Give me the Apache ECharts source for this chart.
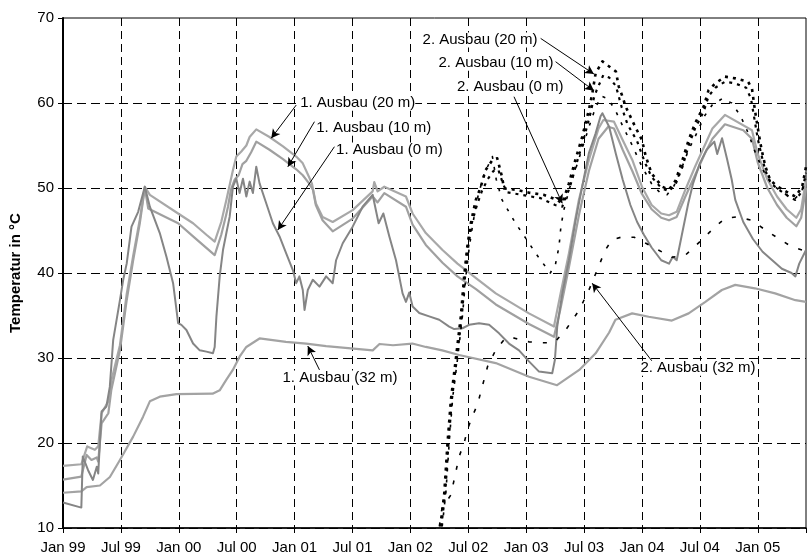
<!DOCTYPE html>
<html><head><meta charset="utf-8">
<script src="https://cdn.jsdelivr.net/npm/echarts@6/dist/echarts.min.js"></script>
<style>html,body{margin:0;padding:0;background:#fff}#c{width:809px;height:558px}</style>
</head><body><div id="c"></div><script>
// x values: months since Jan 1999
const xTickLabels = ['Jan 99','Jul 99','Jan 00','Jul 00','Jan 01','Jul 01','Jan 02','Jul 02','Jan 03','Jul 03','Jan 04','Jul 04','Jan 05'];
const yTicks = [10,20,30,40,50,60,70];

const ausbau1_0m = [[0,13.0],[1.9,12.4],[2.05,18.4],[2.6,16.8],[3.1,15.65],[3.5,17.2],[3.65,16.4],[4.0,23.7],[4.5,24.3],[4.85,26.6],[5.2,32.1],[5.9,36.8],[6.24,39.2],[6.6,41.1],[7.1,45.45],[7.79,47.2],[8.48,50.15],[9.0,47.8],[10.03,44.7],[10.72,41.9],[11.41,38.8],[11.76,35.65],[11.93,34.1],[12.27,33.9],[12.79,33.3],[13.48,31.7],[14.17,30.9],[14.86,30.75],[15.54,30.55],[15.72,31.3],[15.9,34.9],[16.24,39.6],[16.58,42.7],[16.93,44.7],[17.27,46.6],[17.61,50.15],[17.96,51.1],[18.3,49.4],[18.65,51.1],[19.0,49.0],[19.34,50.75],[19.68,49.4],[20.03,52.5],[20.37,50.55],[21.06,48.2],[21.75,45.85],[22.44,44.3],[23.13,42.3],[23.82,40.35],[24.17,38.8],[24.5,39.6],[24.85,38.0],[25.03,35.65],[25.37,38.0],[25.89,39.2],[26.58,38.4],[27.27,39.6],[27.95,38.8],[28.3,41.5],[28.99,43.5],[30.02,45.45],[31.05,47.8],[32.09,49.2],[32.71,45.85],[33.2,47.0],[33.82,44.3],[34.51,41.5],[35.19,37.6],[35.54,36.6],[35.88,37.7],[36.23,36.05],[36.92,35.3],[37.95,34.9],[38.99,34.5],[40.02,33.7],[40.54,33.4],[41.4,33.5],[42.09,33.9],[43.12,34.1],[44.16,33.9],[45.19,32.9],[46.22,31.7],[47.26,30.9],[48.29,29.6],[49.33,28.4],[50.7,28.2],[50.98,29.8],[51.22,33.7],[51.74,37.6],[52.43,41.5],[53.12,46.2],[53.8,50.15],[54.5,54.1],[55.19,56.4],[55.7,58.4],[55.9,58.8],[56.6,57.2],[57.3,54.0],[58.0,51.0],[58.8,48.0],[59.5,46.0],[60.2,44.5],[61.0,43.0],[62.0,41.5],[62.8,41.1],[63.2,41.9],[63.6,41.5],[64.1,44.3],[64.8,48.2],[65.3,50.55],[66.0,52.9],[66.7,54.5],[67.5,55.45],[67.8,54.0],[68.3,55.85],[68.8,53.5],[69.3,51.0],[69.67,48.6],[70.5,46.0],[71.5,44.0],[72.5,42.5],[73.5,41.5],[74.5,40.5],[75.5,40.0],[75.9,39.6],[76.3,41.1],[77,42.7]];

const ausbau1_10m = [[0,15.7],[1.9,16.05],[2.45,18.6],[2.95,18.0],[3.5,18.3],[3.65,17.8],[4.0,22.3],[4.7,23.5],[5.0,26.2],[5.9,30.9],[6.6,36.8],[7.27,41.5],[7.96,45.85],[8.48,50.0],[8.83,47.6],[11.93,45.85],[13.48,44.3],[15.72,42.1],[16.4,44.5],[16.9,46.8],[17.1,47.8],[17.4,49.8],[17.8,51.0],[18.2,51.5],[18.6,52.8],[19.0,53.2],[19.5,54.2],[20.03,55.45],[21.4,54.5],[22.8,53.4],[24.17,52.2],[24.85,51.5],[25.5,50.55],[25.9,49.8],[26.2,48.0],[26.9,46.2],[27.95,44.9],[30.02,46.4],[32.09,49.0],[32.6,48.3],[33.3,49.4],[35.54,47.8],[36.23,45.7],[37.6,43.3],[39.33,41.2],[40.88,39.6],[42.8,38.1],[44.85,36.3],[48.29,34.0],[50.88,32.5],[51.5,35.5],[52.4,40.5],[53.5,47.0],[54.5,52.0],[55.5,55.8],[56.5,57.2],[57.1,57.0],[58.0,54.5],[59.0,52.0],[60.0,49.3],[61.0,47.5],[62.0,46.5],[62.8,46.2],[63.6,46.6],[64.5,49.0],[65.5,51.5],[66.5,54.0],[67.3,55.8],[68.6,57.5],[70.5,56.8],[71.4,55.8],[72.0,53.0],[73.0,50.0],[74.0,48.0],[75.0,46.5],[76.0,45.5],[76.5,46.5],[77,50.0]];

const ausbau1_20m = [[0,17.3],[1.9,17.5],[2.51,19.6],[3.3,19.2],[3.65,19.6],[4.0,23.5],[4.7,24.9],[5.03,27.4],[5.9,31.5],[6.6,37.5],[7.27,42.0],[7.96,46.3],[8.48,50.15],[9.0,49.2],[11.93,47.0],[13.48,45.85],[14.86,44.5],[15.72,43.7],[16.4,46.0],[16.93,48.6],[17.61,52.1],[17.96,53.7],[18.48,54.3],[19.0,55.0],[19.34,56.0],[20.03,56.9],[21.4,56.0],[22.8,54.9],[24.17,53.7],[24.85,52.9],[25.5,51.3],[25.8,50.5],[26.2,48.2],[26.9,46.6],[27.95,46.0],[30.02,47.4],[32.09,49.6],[32.26,50.7],[32.6,49.6],[33.3,50.15],[35.54,49.0],[36.23,47.0],[37.6,44.7],[39.33,42.7],[40.88,41.1],[42.8,39.4],[44.85,37.6],[48.29,35.25],[50.88,33.7],[51.57,37.6],[52.43,42.3],[53.46,48.6],[54.5,53.3],[55.5,57.0],[56.0,58.0],[57.1,57.8],[58.0,55.65],[59.0,53.3],[60.0,50.15],[61.0,48.0],[62.0,47.0],[62.8,46.8],[63.6,47.2],[64.5,49.8],[65.5,52.5],[66.5,55.0],[67.3,57.0],[68.6,58.6],[71.4,56.8],[72.0,54.0],[73.0,51.0],[74.0,49.0],[75.0,47.5],[76.0,46.5],[76.5,47.5],[77,51.0]];

const ausbau1_32m = [[0,14.15],[1.9,14.3],[2.45,14.8],[3.83,15.0],[4.86,16.0],[5.9,18.0],[7.27,20.75],[8.3,23.1],[9.0,24.9],[10.03,25.45],[11.76,25.76],[15.5,25.8],[16.24,26.2],[16.9,27.4],[17.6,28.6],[18.3,30.15],[19.0,31.3],[20.37,32.3],[23.1,31.9],[25.2,31.7],[27.27,31.4],[32.1,30.9],[32.8,31.65],[34.2,31.5],[36.2,31.7],[37.6,31.3],[39.3,30.9],[41.05,30.35],[44.85,29.4],[48.3,27.8],[51.2,26.8],[53.5,28.6],[55.2,30.55],[56.6,33.0],[57.25,34.5],[58.98,35.25],[60.7,34.85],[63.1,34.4],[64.84,35.25],[66.57,36.6],[68.28,38.0],[69.67,38.6],[71.7,38.2],[73.8,37.6],[75.9,36.8],[77,36.6]];

const ausbau2_0m = [[39.3,10.2],[39.7,14.5],[40.05,20.5],[40.4,25.5],[40.9,30.0],[41.4,35.0],[41.75,39.6],[42.1,43.0],[42.5,46.0],[43.0,49.0],[43.6,51.5],[44.2,53.0],[44.5,53.7],[44.9,51.0],[45.5,48.6],[46.9,45.85],[47.95,44.1],[49.0,42.3],[50.0,40.75],[50.5,40.0],[51.05,41.1],[51.4,43.1],[51.6,45.45],[51.9,47.4],[52.5,50.0],[53.2,52.5],[53.9,55.0],[54.6,57.5],[55.2,59.5],[55.8,60.8],[56.5,60.5],[57.3,59.0],[58.0,57.3],[59.0,55.0],[60.0,52.5],[61.0,50.5],[62.0,49.3],[62.6,49.2],[63.3,50.2],[64.0,52.0],[64.84,54.5],[65.7,56.5],[66.5,58.5],[67.3,59.8],[68.3,60.5],[69.3,60.0],[70.2,58.5],[71.0,56.5],[71.8,54.0],[72.6,52.0],[73.4,50.5],[74.4,49.6],[75.3,49.0],[75.9,48.8],[76.5,49.5],[77,51.0]];

const ausbau2_10m = [[39.2,10.2],[39.6,13.9],[39.95,20.0],[40.3,25.1],[40.8,29.8],[41.33,34.9],[41.67,39.6],[42.0,43.1],[42.36,45.85],[42.9,48.0],[43.4,49.6],[44.0,51.0],[44.6,52.0],[45.1,52.2],[45.6,50.5],[46.0,49.5],[47.5,49.2],[49.5,48.8],[51.0,48.0],[51.74,47.8],[52.5,50.0],[53.2,52.8],[53.9,55.5],[54.6,58.5],[55.0,60.5],[55.3,61.5],[56.0,63.3],[56.6,63.0],[57.3,62.0],[57.9,59.5],[58.5,57.5],[59.5,55.5],[60.3,53.0],[61.0,51.3],[62.0,50.0],[62.8,49.6],[63.5,50.5],[64.2,52.5],[64.84,55.0],[65.5,57.0],[66.4,59.0],[66.9,60.8],[67.6,61.8],[68.6,62.5],[69.67,62.3],[70.8,61.8],[71.3,60.5],[71.6,58.5],[72.0,55.8],[72.4,53.8],[72.8,52.0],[73.4,50.5],[74.2,49.8],[75.2,49.0],[75.9,48.6],[76.6,49.6],[77,51.8]];

const ausbau2_20m = [[39.1,10.2],[39.5,13.9],[39.85,20.0],[40.2,25.1],[40.7,29.8],[41.23,34.9],[41.57,39.6],[41.9,43.1],[42.26,45.85],[42.78,48.6],[43.3,50.15],[43.8,52.1],[44.5,53.3],[45.0,53.5],[45.5,51.3],[45.7,49.95],[46.9,49.8],[48.3,49.45],[49.8,49.2],[51.2,48.6],[51.74,48.2],[52.43,50.55],[53.1,53.3],[53.8,56.0],[54.5,59.2],[54.85,61.1],[55.2,63.5],[55.9,64.9],[56.6,64.3],[57.3,63.7],[57.6,61.9],[58.0,60.7],[58.3,59.6],[59.3,57.2],[60.0,55.65],[60.4,53.7],[61.0,51.7],[62.1,50.15],[62.8,49.8],[63.5,50.9],[64.2,53.3],[64.84,55.65],[65.5,57.6],[66.4,59.6],[66.9,61.5],[67.6,62.3],[68.6,63.1],[69.67,62.9],[71.0,62.5],[71.4,61.7],[71.7,59.2],[72.1,56.4],[72.4,54.5],[72.8,52.5],[73.3,50.9],[74.1,50.15],[75.2,49.4],[75.9,49.0],[76.6,50.15],[77,52.5]];

const ausbau2_32m = [[39.0,10.2],[39.27,12.3],[40.2,13.9],[41.05,18.4],[41.57,20.0],[41.9,21.5],[42.4,23.1],[42.95,24.5],[43.3,26.0],[44.0,29.0],[44.85,30.95],[45.6,32.0],[46.2,32.5],[46.9,32.3],[48.3,31.9],[49.7,31.8],[50.9,31.8],[52.1,33.3],[53.5,35.65],[54.5,38.0],[54.8,38.8],[55.5,40.75],[56.2,42.7],[56.9,43.9],[57.8,44.2],[59.2,44.2],[60.4,43.5],[61.7,42.7],[63.1,41.85],[64.5,42.1],[66.2,43.9],[67.6,45.45],[68.6,46.4],[69.8,46.6],[71.4,46.2],[72.8,45.05],[74.1,44.1],[75.5,43.1],[76.6,42.7],[77,43.5]];

// annotations: text, text anchor (left-middle), arrow start, arrow tip (data coords)
const annoText = ['1. Ausbau (20 m)','1. Ausbau (10 m)','1. Ausbau (0 m)','1. Ausbau (32 m)','2. Ausbau (20 m)','2. Ausbau (10 m)','2. Ausbau (0 m)','2. Ausbau (32 m)'];
const annoAt   = [[24.58,59.96],[26.24,57.02],[28.3,54.47],[22.75,27.65],[37.26,67.41],[38.91,64.67],[40.82,61.85],[59.84,28.79]];
const annoFrom = [[24.17,59.76],[26.06,57.8],[28.13,54.86],[26.58,28.6],[49.5,67.6],[51.05,64.86],[46.74,60.74],[61.2,29.4]];
const annoTip  = [[21.58,55.85],[23.3,52.5],[22.26,45.06],[25.37,31.4],[55.02,63.41],[55.02,61.45],[51.74,48.2],[54.84,38.8]];

const chart = echarts.init(document.getElementById('c'), null, {renderer:'canvas'});
const FONT = 'Liberation Sans, Arial, sans-serif';
function line(name, data, color, width, type, z){
  return {name, type:'line', data, symbol:'none', smooth:false, z:z||2,
    lineStyle:{color, width, type: type||'solid', cap:'butt', join:'round'}, silent:true, animation:false};
}
const arrowData = annoFrom.map((f,i)=>[{coord:f},{coord:annoTip[i]}]);
chart.setOption({
  animation:false,
  backgroundColor:'#fff',
  grid:{left:63, right:0, top:18, bottom:30, show:true, borderColor:'#000', borderWidth:1},
  xAxis:{type:'value', min:0, max:77, interval:6,
    axisLine:{lineStyle:{color:'#000', width:1.5}},
    axisTick:{show:true, length:5, lineStyle:{color:'#000'}},
    axisLabel:{color:'#000', fontFamily:FONT, fontSize:15, margin:12,
      formatter:v=> (v%6===0 && v/6 < xTickLabels.length) ? xTickLabels[v/6] : ''},
    splitLine:{show:true, showMaxLine:false, lineStyle:{color:'#000', width:1, type:[8,5]}}},
  yAxis:{type:'value', min:10, max:70, interval:10,
    name:'Temperatur in °C', nameLocation:'middle', nameGap:40,
    nameTextStyle:{color:'#000', fontFamily:FONT, fontSize:15, fontWeight:'bold'},
    axisLine:{show:true, lineStyle:{color:'#000', width:2}},
    axisTick:{show:true, length:5, lineStyle:{color:'#000'}},
    axisLabel:{color:'#000', fontFamily:FONT, fontSize:15, margin:9, formatter:v=>yTicks.includes(v)?String(v):''},
    splitLine:{show:true, showMaxLine:false, lineStyle:{color:'#000', width:1, type:[9,5]}}},
  series:[
    line('1. Ausbau (32 m)', ausbau1_32m, '#a3a3a3', 2.2),
    line('1. Ausbau (20 m)', ausbau1_20m, '#a8a8a8', 2.2),
    line('1. Ausbau (10 m)', ausbau1_10m, '#a0a0a0', 2.2),
    line('1. Ausbau (0 m)', ausbau1_0m, '#858585', 2),
    line('2. Ausbau (32 m)', ausbau2_32m, '#000', 1.6, [4,11], 3),
    line('2. Ausbau (0 m)', ausbau2_0m, '#000', 1.6, [3,8], 3),
    line('2. Ausbau (10 m)', ausbau2_10m, '#000', 2.2, [3,5], 3),
    line('2. Ausbau (20 m)', ausbau2_20m, '#000', 2.6, [3,5], 3),
    {type:'line', name:'arrows', data:[], z:5, silent:true,
      markLine:{silent:true, animation:false, symbol:['none','arrow'], symbolSize:[7,9], precision:4,
        label:{show:false}, emphasis:{disabled:true},
        lineStyle:{color:'#000', width:1, type:'solid'}, data:arrowData}}
  ]
});
const texts = annoText.map((t,i)=>{
  const p = chart.convertToPixel({gridIndex:0}, annoAt[i]);
  return {type:'text', x:p[0], y:p[1], z:10,
    style:{text:t, fill:'#000', font:'15px '+FONT, textAlign:'left', textVerticalAlign:'middle',
      backgroundColor:'#fff'}};
});
chart.setOption({graphic:texts});
</script></body></html>
